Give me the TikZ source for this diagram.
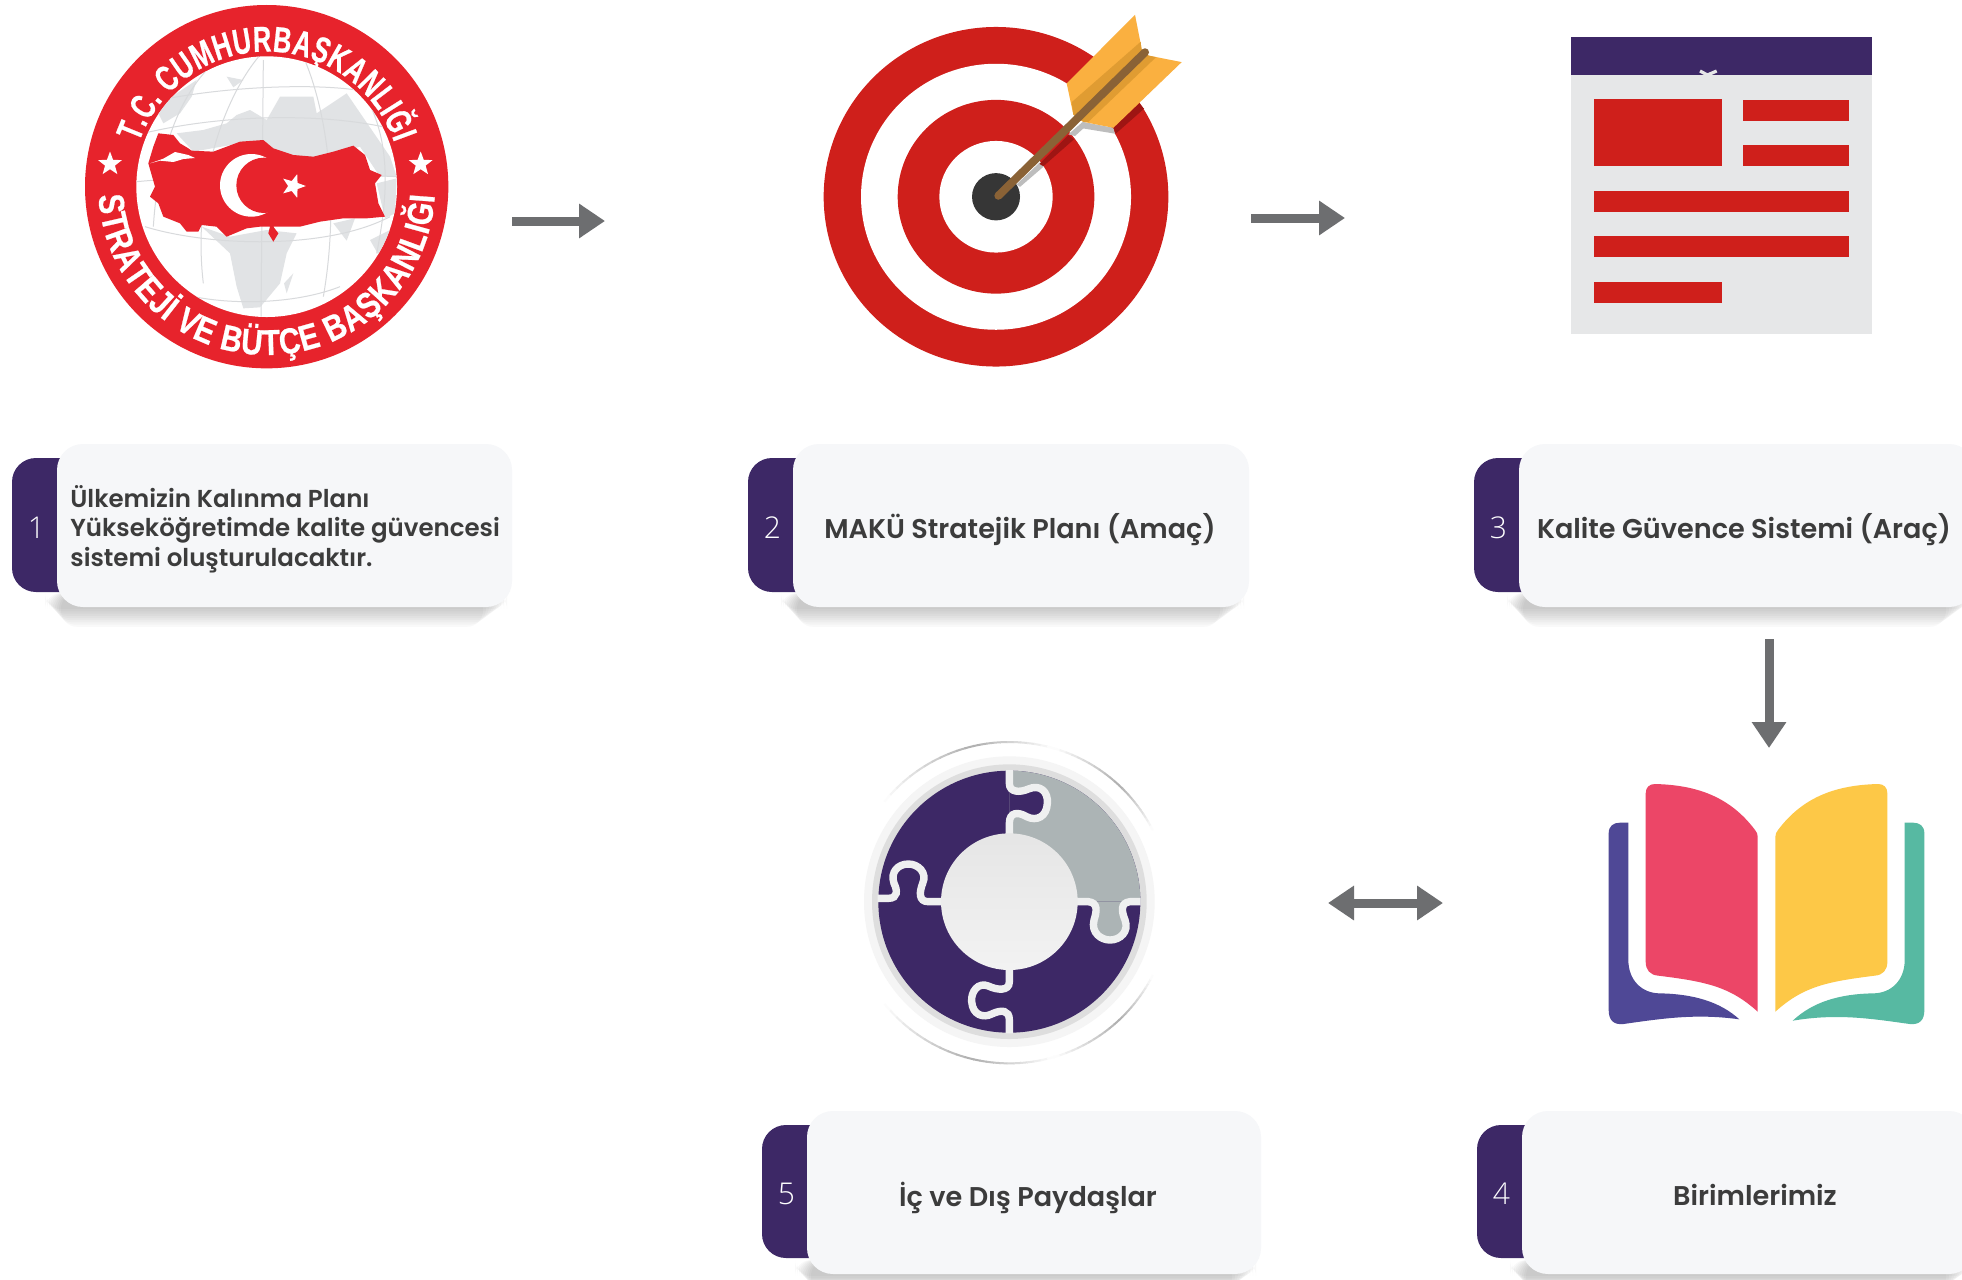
\documentclass[tikz,border=0pt]{standalone}
\usepackage{fontspec}
\usetikzlibrary{arrows.meta,shapes.geometric,decorations.text}
\setmainfont{Poppins}
\newfontfamily\cardfont{Poppins SemiBold}
\newfontfamily\numfont{Open Sans Light}
\newfontfamily\logofont[FakeStretch=0.82,FakeBold=0.6]{Liberation Sans Bold}
\newfontfamily\logofontb[FakeStretch=0.70,FakeBold=0.6]{Liberation Sans Bold}
\definecolor{plum}{HTML}{3D2866}
\definecolor{cardbg}{HTML}{F6F7F9}
\definecolor{redt}{HTML}{CF1F1B}
\definecolor{redl}{HTML}{E7232C}
\definecolor{landc}{HTML}{E1E3E5}
\definecolor{gridc}{HTML}{D8DADC}
\definecolor{arrowc}{HTML}{6D6E70}
\definecolor{inkc}{HTML}{3C3C3C}
\definecolor{seam}{HTML}{EFF0F0}
\definecolor{featherc}{HTML}{FAB040}
\definecolor{featherd}{HTML}{E09C32}
\definecolor{shaftc}{HTML}{8A6236}
\definecolor{darkredc}{HTML}{9E1513}
\definecolor{shadowc}{HTML}{BDBDBD}
\definecolor{pagec}{HTML}{E6E7E8}
\definecolor{greyp}{HTML}{ACB4B5}
\tikzset{
  flowarrow/.style={draw=arrowc,line width=4.5pt,-{Triangle[length=13pt,width=16.5pt]}},
  flowarrowb/.style={draw=arrowc,line width=4.5pt,{Triangle[length=13pt,width=16.5pt]}-{Triangle[length=13pt,width=16.5pt]}},
  cardtext/.style={text=inkc,font=\cardfont\fontsize{13.55}{15}\selectfont,inner sep=0pt},
  bodytext/.style={text=inkc,font=\cardfont\fontsize{12.25}{14.75}\selectfont,inner sep=0pt},
  numtext/.style={text=white,font=\numfont\fontsize{15}{16}\selectfont,inner sep=0pt},
  ringstar/.style={star,star points=5,star point ratio=2.4,fill=white,draw=none,inner sep=0pt,minimum size=12.5pt},
  globeline/.style={draw=gridc,line width=0.5pt},
}
\newcommand{\stepcard}[8]{% x1 x2 y1 y2 bx by1 by2 number
  \foreach \k in {1,...,9}{
    \fill[black,opacity=0.024,rounded corners=8pt]
      ({#1-14+\k*2},{-#4+14}) rectangle ({#2-2-\k*3},{-#4-2.2*\k});
  }
  \fill[plum,rounded corners=12pt] (#5,-#6) rectangle (#1+30,-#7);
  \fill[cardbg,rounded corners=13pt] (#1,-#3) rectangle (#2,-#4);
  \node[numtext] (n#8) at (#5+24.5,{-(#6+#7)/2-2.5}) {#8};
}
\begin{document}
\begin{tikzpicture}[x=0.5pt,y=0.5pt]
\useasboundingbox (0,0) rectangle (1962,-1279);
\fill[white] (0,0) rectangle (1962,-1279);

% ---------- logo
\begin{scope}[shift={(60,0)},x=0.16667pt,y=0.16667pt]
  \fill[redl] (620,-560) circle[radius=545];
  \fill[white] (620,-560) circle[radius=391];
  \begin{scope}
    \clip (620,-560) circle[radius=391];
    \fill[landc] (290,-330) -- (350,-280) -- (410,-240) -- (395,-290) -- (360,-340) -- (310,-370) -- cycle;
    \fill[landc] (500,-230) -- (550,-240) -- (520,-262) -- cycle;
    \fill[landc] (350,-400) -- (430,-390) -- (500,-370) -- (530,-345) -- (570,-330) -- (620,-360) -- (660,-290) -- (760,-290) -- (770,-340) -- (860,-280) -- (990,-470) -- (1010,-530) -- (960,-530) -- (900,-440) -- (760,-480) -- (640,-450) -- (540,-430) -- (400,-455) -- cycle;
    \fill[landc] (950,-550) -- (1010,-535) -- (1005,-640) -- (975,-655) -- cycle;
    \fill[landc] (820,-670) -- (885,-655) -- (860,-722) -- cycle;
    \fill[landc] (930,-720) -- (990,-690) -- (970,-790) -- cycle;
    \fill[landc] (425,-680) -- (510,-710) -- (620,-690) -- (710,-700) -- (680,-760) -- (660,-850) -- (600,-922) -- (550,-925) -- (530,-860) -- (510,-760) -- cycle;
    \fill[landc] (700,-820) -- (680,-880) -- (672,-850) -- cycle;
    \draw[globeline] (600,-165) .. controls (470,-320) and (400,-600) .. (430,-850);
    \draw[globeline] (730,-170) .. controls (800,-330) and (840,-600) .. (790,-890);
    \draw[globeline] (610,-180) -- (603,-950);
    \draw[globeline] (440,-210) .. controls (330,-330) and (290,-520) .. (280,-680);
    \draw[globeline] (900,-260) .. controls (990,-400) and (990,-560) .. (950,-760);
    \draw[globeline] (300,-300) .. controls (500,-260) and (750,-250) .. (890,-270);
    \draw[globeline] (250,-400) .. controls (500,-340) and (800,-340) .. (990,-385);
    \draw[globeline] (230,-545) .. controls (500,-520) and (800,-520) .. (1010,-530);
    \draw[globeline] (255,-680) .. controls (450,-740) and (800,-750) .. (990,-650);
    \draw[globeline] (380,-885) .. controls (500,-915) and (700,-915) .. (840,-860);
  \end{scope}
  \fill[redl] (295,-400) -- (340,-405) -- (360,-430) -- (385,-445) -- (395,-452) -- (460,-455) -- (540,-425) -- (610,-420) -- (640,-445) -- (700,-465) -- (760,-470) -- (820,-455) -- (880,-437) -- (915,-465) -- (930,-510) -- (965,-525) -- (945,-550) -- (955,-610) -- (975,-650) -- (920,-655) -- (850,-655) -- (780,-665) -- (720,-680) -- (660,-680) -- (640,-680) -- (655,-700) -- (640,-725) -- (625,-700) -- (630,-680) -- (600,-680) -- (560,-685) -- (500,-710) -- (470,-680) -- (425,-675) -- (415,-695) -- (380,-695) -- (360,-670) -- (310,-650) -- (295,-610) -- (270,-590) -- (285,-560) -- (265,-490) -- (280,-440) -- cycle;
  \fill[white] (270,-490) -- (310,-476) -- (345,-456) -- (385,-465) -- (405,-474) -- (370,-477) -- (340,-486) -- (300,-482) -- cycle;
  \fill[white] (574,-556) circle[radius=94];
  \fill[redl] (612,-556) circle[radius=83];
  \node[ringstar,minimum size=12.5pt,rotate=-18] (st) at (700,-558) {};
  \node[ringstar] (sl) at (150,-492) {};
  \node[ringstar] (sr) at (1082,-492) {};
  \path[decorate,decoration={text along path,text align=fit to path,
     text={|\logofontb\fontsize{18}{18}\selectfont\color{white}|T.C. CUMHURBAŞKANLIĞI}}]
     (620,-560) ++(161:405) arc[start angle=161,end angle=19,radius=405];
  \path[decorate,decoration={text along path,text align=fit to path,
     text={|\logofont\fontsize{18}{18}\selectfont\color{white}|STRATEJİ VE BÜTÇE BAŞKANLIĞI}}]
     (620,-560) ++(183:505) arc[start angle=183,end angle=357,radius=505];
\end{scope}

% ---------- target
\begin{scope}[shift={(800,-3)},x=0.16667pt,y=0.1642pt]
  \fill[redt] (588,-590) circle[radius=517];
  \fill[white] (588,-590) circle[radius=405];
  \fill[redt] (588,-590) circle[radius=295];
  \fill[white] (588,-590) circle[radius=170];
  \fill[black!79] (588,-590) circle[radius=72];
  \fill[shadowc] (650,-552) -- (720,-485) -- (732,-497) -- (660,-560) -- cycle;
  \fill[shadowc] (805,-400) -- (848,-362) -- (940,-380) -- (945,-398) -- (850,-382) -- (825,-405) -- cycle;
  \fill[darkredc] (718,-490) -- (805,-402) -- (822,-415) -- (730,-497) -- cycle;
  \fill[darkredc] (940,-380) -- (1018,-305) -- (1032,-322) -- (947,-398) -- cycle;
  \fill[featherc] (800,-245) -- (1005,-36) -- (1025,-140) -- (1045,-160) -- (1145,-180) -- (940,-380) -- (850,-362) -- (820,-340) -- cycle;
  \fill[featherd] (815,-302) -- (1022,-118) -- (1024,-140) -- (1045,-160) -- (1068,-165) -- (865,-362) -- (850,-362) -- (820,-340) -- cycle;
  \draw[draw=shaftc,line width=4pt,line cap=round] (595,-587) -- (1035,-150);
\end{scope}

% ---------- page icon
\begin{scope}[shift={(1550,-20)},x=0.16667pt,y=0.16667pt]
  \fill[pagec] (62,-50) rectangle (965,-942);
  \fill[plum] (62,-50) rectangle (965,-165);
  \draw[draw=pagec,line width=1.6pt] (450,-153) -- (472,-165) -- (500,-153);
  \fill[redt] (133,-237) rectangle (515,-437);
  \fill[redt] (578,-240) rectangle (896,-302);
  \fill[redt] (578,-375) rectangle (896,-437);
  \fill[redt] (133,-513) rectangle (896,-575);
  \fill[redt] (133,-648) rectangle (896,-710);
  \fill[redt] (133,-786) rectangle (515,-848);
\end{scope}

% ---------- puzzle
\begin{scope}[shift={(840,-720)},x=0.16667pt,y=0.16667pt]
  \foreach \sgn in {1,-1}{
  \foreach \aa/\ab/\ia/\ib in {141/103/0/32,103/74/32/0,74/47/0/32,47/27/32/0}{
    \foreach \t in {0,...,11}{
      \pgfmathsetmacro\va{\aa+(\ab-\aa)*\t/12}
      \pgfmathsetmacro\vb{\aa+(\ab-\aa)*(\t+1.1)/12}
      \pgfmathsetmacro\vi{\ia+(\ib-\ia)*(\t+0.5)/12}
      \draw[draw=black!\vi!white,line width=1pt] (508,-548) ++({\sgn*\va}:482) arc[start angle={\sgn*\va},end angle={\sgn*\vb},radius=482];
    }}}
  \fill[black!4] (508,-545) circle[radius=436];
  \fill[black!13] (508,-545) circle[radius=412];
  \fill[plum] (508,-545) circle[radius=393];
  \fill[greyp] (508,-545) -- (508,-152) arc[start angle=90,end angle=0,radius=393] -- cycle;
  \def\seamtop{(508,-150) -- (508,-190) .. controls (508,-218) and (540,-218) .. (565,-207) .. controls (600,-192) and (625,-215) .. (622,-250) .. controls (620,-290) and (590,-305) .. (560,-290) .. controls (535,-275) and (508,-275) .. (508,-310) -- (508,-345)}
  \def\seamright{(710,-545) -- (745,-545) .. controls (775,-548) and (770,-575) .. (762,-600) .. controls (752,-640) and (785,-660) .. (810,-660) .. controls (840,-660) and (868,-635) .. (855,-600) .. controls (845,-575) and (840,-548) .. (870,-545) -- (902,-545)}
  \def\seamleft{(113,-535) -- (145,-535) .. controls (175,-535) and (172,-510) .. (162,-490) .. controls (150,-455) and (175,-432) .. (205,-432) .. controls (235,-432) and (262,-458) .. (248,-490) .. controls (238,-515) and (235,-545) .. (265,-545) -- (305,-545)}
  \def\seambottom{(508,-745) -- (508,-785) .. controls (508,-815) and (470,-810) .. (445,-798) .. controls (415,-785) and (392,-815) .. (395,-845) .. controls (398,-885) and (430,-895) .. (455,-882) .. controls (485,-868) and (508,-870) .. (508,-900) -- (508,-940)}
  \fill[plum] \seamtop -- cycle;
  \fill[greyp] \seamright -- cycle;
  \draw[draw=seam,line width=3.7pt] \seamtop;
  \draw[draw=seam,line width=3.7pt] \seamright;
  \draw[draw=seam,line width=3.7pt] \seamleft;
  \draw[draw=seam,line width=3.7pt] \seambottom;
  \shade[top color=black!10,bottom color=black!5] (508,-545) circle[radius=205];
\end{scope}

% ---------- book
\begin{scope}[shift={(1580,-760)},x=0.16667pt,y=0.16667pt]
  \fill[fill={rgb,255:red,236;green,70;blue,103}] (225,-72) .. controls (350,-75) and (450,-110) .. (525,-210) .. controls (530,-216) and (533,-222) .. (533,-230) -- (533,-755) .. controls (450,-680) and (380,-665) .. (235,-647) .. controls (210,-645) and (197,-630) .. (197,-605) -- (197,-100) .. controls (197,-82) and (208,-72) .. (225,-72) -- cycle;
  \fill[fill={rgb,255:red,253;green,200;blue,71}] (894,-72) .. controls (769,-75) and (669,-110) .. (594,-210) .. controls (589,-216) and (586,-222) .. (586,-230) -- (586,-755) .. controls (669,-680) and (739,-665) .. (884,-647) .. controls (909,-645) and (922,-630) .. (922,-605) -- (922,-100) .. controls (922,-82) and (911,-72) .. (894,-72) -- cycle;
  \fill[fill={rgb,255:red,79;green,72;blue,150}] (145,-188) -- (145,-600) .. controls (145,-660) and (185,-700) .. (240,-700) .. controls (340,-702) and (420,-725) .. (478,-778) .. controls (350,-760) and (250,-775) .. (130,-792) .. controls (100,-795) and (86,-780) .. (86,-750) -- (86,-220) .. controls (86,-198) and (100,-188) .. (120,-188) -- cycle;
  \fill[fill={rgb,255:red,87;green,185;blue,162}] (974,-188) -- (974,-600) .. controls (974,-660) and (934,-700) .. (879,-700) .. controls (779,-702) and (699,-725) .. (638,-782) .. controls (769,-760) and (869,-775) .. (989,-792) .. controls (1019,-795) and (1033,-780) .. (1033,-750) -- (1033,-220) .. controls (1033,-198) and (1019,-188) .. (999,-188) -- cycle;
\end{scope}

% ---------- cards
\stepcard{57}{512}{444}{607}{12}{458}{592}{1}
\stepcard{793}{1249}{444}{607}{748}{458}{592}{2}
\stepcard{1519}{1975}{444}{607}{1474}{458}{592}{3}
\stepcard{807}{1261}{1111}{1274}{762}{1125}{1258}{5}
\stepcard{1522}{1975}{1111}{1274}{1477}{1125}{1258}{4}

\node[bodytext,anchor=west,align=left] (t1) at (70,-529) {Ülkemizin Kalınma Planı\\Yükseköğretimde kalite güvencesi\\sistemi oluşturulacaktır.};
\node[cardtext] (t2) at (1020,-530) {MAKÜ Stratejik Planı (Amaç)};
\node[cardtext] (t3) at (1744,-530) {Kalite Güvence Sistemi (Araç)};
\node[cardtext] (t5) at (1028,-1198) {İç ve Dış Paydaşlar};
\node[cardtext] (t4) at (1755,-1195) {Birimlerimiz};

% ---------- connectors
\coordinate (a1s) at (512,-221); \coordinate (a1e) at (605,-221);
\coordinate (a2s) at (1251,-218); \coordinate (a2e) at (1345,-218);
\coordinate (a3s) at (1769,-639); \coordinate (a3e) at (1769,-748);
\coordinate (a4s) at (1328,-903); \coordinate (a4e) at (1443,-903);
\draw[flowarrow] (a1s) -- (a1e);
\draw[flowarrow] (a2s) -- (a2e);
\draw[flowarrow] (a3s) -- (a3e);
\draw[flowarrowb] (a4s) -- (a4e);
\end{tikzpicture}
\end{document}
